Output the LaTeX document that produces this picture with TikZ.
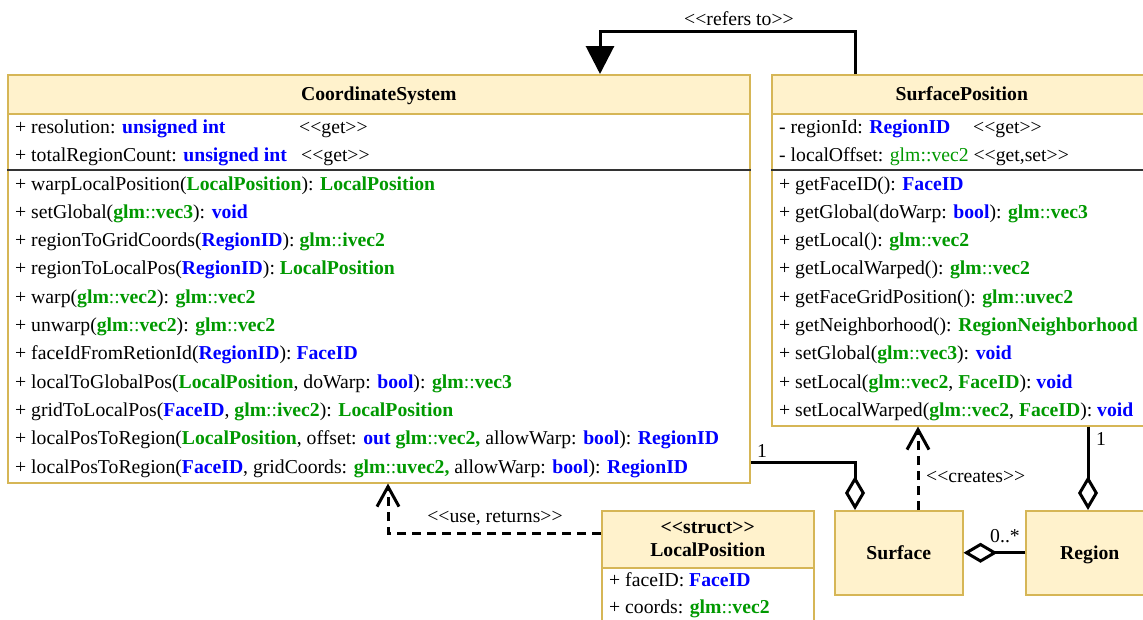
\documentclass[tikz,border=0pt]{standalone}
\usepackage{fontspec}
\usepackage{xcolor}
\usepackage{tikz}
\usetikzlibrary{arrows.meta}
\newfontfamily\umlfont{Liberation Serif}
\definecolor{headfill}{HTML}{FFF2CC}
\definecolor{boxgold}{HTML}{D6B656}
\definecolor{typeblue}{HTML}{0000FF}
\definecolor{typegreen}{HTML}{009900}
\newcommand\bb[1]{\textcolor{typeblue}{\textbf{#1}}}
\newcommand\gb[1]{\textcolor{typegreen}{\textbf{#1}}}
\newcommand\glm[1]{\textcolor{typegreen}{\textbf{glm}::\textbf{#1}}}

\begin{document}
\begin{tikzpicture}[x=1pt, y=-1pt,
        umlbox/.style={draw=boxgold, line width=1.5pt, fill=white, inner sep=0pt, anchor=north west},
        umlhead/.style={umlbox, fill=headfill, text height=17pt, text depth=4pt, font=\umlfont\fontsize{19.7}{23}\selectfont\bfseries},
        row/.style={anchor=base west, inner sep=0pt, font=\umlfont\fontsize{19.7}{23}\selectfont},
        lbl/.style={row, anchor=base},
        sepline/.style={draw=black!80, line width=1.5pt},
        link/.style={line width=3pt},
        dep/.style={link, dash pattern=on 9pt off 6pt, -{Straight Barb[length=20pt, width=22pt]}},
        aggr/.style={link, -{Diamond[fill=white, length=34pt, width=20pt]}},
        refer/.style={link, -{Triangle[length=28pt, width=28pt]}}]
            \useasboundingbox (0,0) rectangle (1143,619);

            % CoordinateSystem
            \node[umlbox, minimum width=742, minimum height=408] (cs) at (7,74) {};
            \node[umlhead, minimum width=742, minimum height=39] (cs-head) at (7,74) {CoordinateSystem};
            \coordinate (sep) at (0,170);
            \draw[sepline] (cs.west |- sep) -- (cs.east |- sep);
            \node[row] (cs-a0) at (15,133) {+ resolution: \bb{unsigned int}};
            \node[row] (cs-g0) at (299,133) {<<get>>};
            \node[row] (cs-a1) at (15,161.5) {+ totalRegionCount: \bb{unsigned int}};
            \node[row] (cs-g1) at (301,161.5) {<<get>>};
            \foreach \meth [count=\i from 0] in {
                {+ warpLocalPosition(\gb{LocalPosition}): \gb{LocalPosition}},
                {+ setGlobal(\glm{vec3}): \bb{void}},
                {+ regionToGridCoords(\bb{RegionID}): \glm{ivec2}},
                {+ regionToLocalPos(\bb{RegionID}): \gb{LocalPosition}},
                {+ warp(\glm{vec2}): \glm{vec2}},
                {+ unwarp(\glm{vec2}): \glm{vec2}},
                {+ faceIdFromRetionId(\bb{RegionID}): \bb{FaceID}},
                {+ localToGlobalPos(\gb{LocalPosition}, doWarp: \bb{bool}): \glm{vec3}},
                {+ gridToLocalPos(\bb{FaceID}, \glm{ivec2}): \gb{LocalPosition}},
                {+ localPosToRegion(\gb{LocalPosition}, offset: \bb{out} \glm{vec2,} allowWarp: \bb{bool}): \bb{RegionID}},
                {+ localPosToRegion(\bb{FaceID}, gridCoords: \glm{uvec2,} allowWarp: \bb{bool}): \bb{RegionID}}} {
                \node[row] (cs-m\i) at (15,190+28.3*\i) {\meth};
            }

            % SurfacePosition
            \node[umlbox, minimum width=380, minimum height=351] (sp) at (771,74) {};
            \node[umlhead, minimum width=380, minimum height=39] (sp-head) at (771,74) {SurfacePosition};
            \draw[sepline] (sp.west |- sep) -- (sp.east |- sep);
            \node[row] (sp-a0) at (779,133) {- regionId: \bb{RegionID}};
            \node[row] (sp-g0) at (973,133) {<<get>>};
            \node[row] (sp-a1) at (779,161.5) {- localOffset: \textcolor{typegreen}{glm::vec2} <<get,set>>};
            \foreach \meth [count=\i from 0] in {
                {+ getFaceID(): \bb{FaceID}},
                {+ getGlobal(doWarp: \bb{bool}): \glm{vec3}},
                {+ getLocal(): \glm{vec2}},
                {+ getLocalWarped(): \glm{vec2}},
                {+ getFaceGridPosition(): \glm{uvec2}},
                {+ getNeighborhood(): \gb{RegionNeighborhood}},
                {+ setGlobal(\glm{vec3}): \bb{void}},
                {+ setLocal(\glm{vec2}, \gb{FaceID}): \bb{void}},
                {+ setLocalWarped(\glm{vec2}, \gb{FaceID}): \bb{void}}} {
                \node[row] (sp-m\i) at (779,190+28.3*\i) {\meth};
            }

            % LocalPosition, Surface, Region
            \node[umlbox, minimum width=212, minimum height=130] (lp) at (601,510) {};
            \node[umlhead, minimum width=212, minimum height=57, align=center, text height=, text depth=] (lp-head) at (601,510) {<<struct>>\\LocalPosition};
            \node[row] (lp-a0) at (609,586) {+ faceID: \bb{FaceID}};
            \node[row] (lp-a1) at (609,613) {+ coords: \glm{vec2}};
            \node[umlhead, minimum width=128, minimum height=84] (sf) at (834,510) {Surface};
            \node[umlhead, minimum width=128, minimum height=84] (rg) at (1025,510) {Region};

            % connectors
            \coordinate (ref-r) at (855,31);
            \coordinate (ref-l) at (600,31);
            \draw[refer] (sp.north -| ref-r) -- (ref-r) -- (ref-l) -- (cs.north -| ref-l);
            \node[lbl] (ref-lbl) at (739,25) {<<refers to>>};

            \coordinate (agg) at (855,462);
            \draw[aggr] (cs.east |- agg) -| (sf.north -| agg);
            \node[lbl] (agg-one) at (762,457) {1};

            \coordinate (cre) at (918,0);
            \draw[dep] (sf.north -| cre) -- (sp.south -| cre);
            \node[row] (cre-lbl) at (926,482) {<<creates>>};

            \coordinate (own) at (1088,0);
            \draw[aggr] (sp.south -| own) -- (rg.north -| own);
            \node[lbl] (own-one) at (1101,445) {1};

            \draw[aggr] (rg.west) -- (sf.east);
            \node[lbl] (many) at (1005,542) {0..*};

            \coordinate (use) at (388,533);
            \draw[dep] (lp.west |- use) -| (cs.south -| use);
            \node[lbl] (use-lbl) at (495,522) {<<use, returns>>};
        \end{tikzpicture}
\end{document}
